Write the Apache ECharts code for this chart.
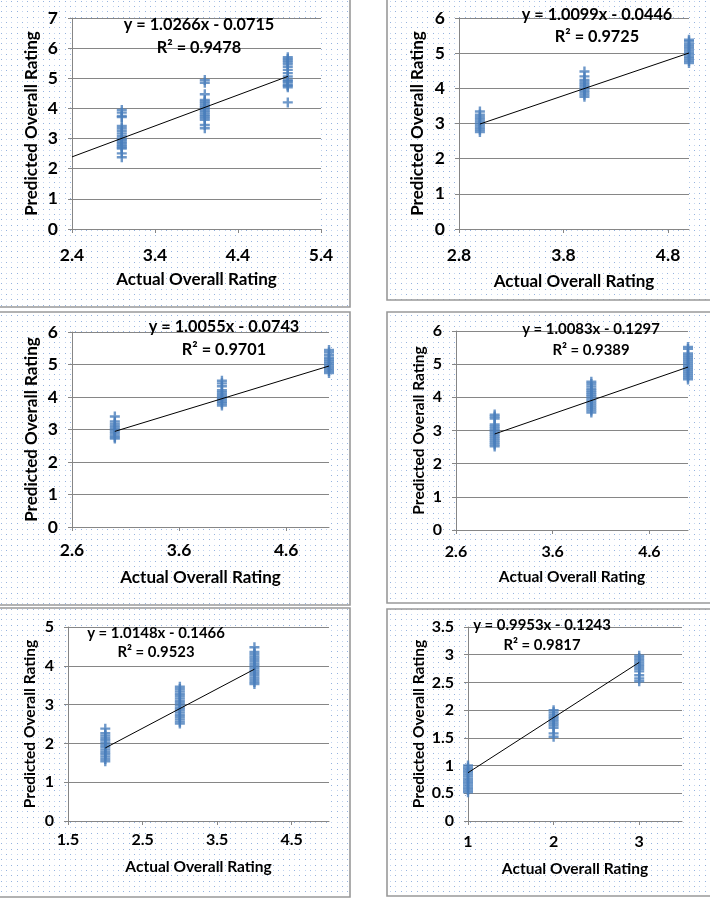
<!DOCTYPE html>
<html>
<head>
<meta charset="utf-8">
<script src="https://cdn.jsdelivr.net/npm/echarts@6/dist/echarts.min.js"></script>
<style>
  html, body { margin: 0; padding: 0; background: #fff; }
  #chart { width: 710px; height: 904px; }
</style>
</head>
<body>
<div id="chart"></div>
<script>
// actual rating groups per panel (x) and predicted ratings (y)
const actual = [[3, 4, 5], [3, 4, 5], [3, 4, 5], [3, 4, 5], [2, 3, 4], [1, 2, 3]]

const pred1 = [
  [3.95, 3.86, 3.75, 3.71, 3.42, 3.34, 3.26, 3.17, 3.08, 3.0, 2.95, 2.9, 2.85, 2.8, 2.75, 2.7, 2.67, 2.51, 2.38],
  [4.94, 4.85, 4.47, 4.28, 4.22, 4.16, 4.1, 4.04, 3.98, 3.92, 3.86, 3.8, 3.74, 3.68, 3.62, 3.45, 3.34],
  [5.7, 5.64, 5.58, 5.52, 5.46, 5.38, 5.28, 5.17, 5.06, 4.95, 4.9, 4.86, 4.78, 4.75, 4.7, 4.2]
]
const pred2 = [
  [3.34, 3.25, 3.18, 3.12, 3.06, 3.0, 2.94, 2.88, 2.82, 2.76],
  [4.48, 4.34, 4.24, 4.18, 4.12, 4.06, 4.0, 3.94, 3.88, 3.82, 3.76],
  [5.38, 5.33, 5.26, 5.2, 5.14, 5.08, 5.02, 4.96, 4.9, 4.84, 4.78, 4.72]
]
const pred3 = [
  [3.4, 3.25, 3.18, 3.12, 3.06, 3.0, 2.94, 2.88, 2.82, 2.76, 2.72],
  [4.5, 4.42, 4.33, 4.21, 4.15, 4.09, 4.03, 3.97, 3.91, 3.85, 3.8, 3.74],
  [5.45, 5.38, 5.3, 5.22, 5.16, 5.1, 5.04, 4.98, 4.92, 4.86, 4.8, 4.74]
]
const pred4 = [
  [3.48, 3.42, 3.36, 3.18, 3.12, 3.06, 3.0, 2.94, 2.88, 2.82, 2.76, 2.7, 2.64, 2.58, 2.52],
  [4.47, 4.4, 4.33, 4.26, 4.2, 4.14, 4.08, 4.02, 3.96, 3.9, 3.84, 3.78, 3.72, 3.66, 3.6, 3.54],
  [5.52, 5.46, 5.32, 5.26, 5.2, 5.14, 5.08, 5.02, 4.96, 4.9, 4.84, 4.78, 4.72, 4.66, 4.6, 4.54]
]
const pred5 = [
  [2.38, 2.26, 2.2, 2.14, 2.08, 2.02, 1.96, 1.9, 1.84, 1.78, 1.72, 1.66, 1.6, 1.54],
  [3.46, 3.4, 3.34, 3.28, 3.22, 3.16, 3.1, 3.04, 2.98, 2.92, 2.86, 2.8, 2.74, 2.68, 2.62, 2.56, 2.51],
  [4.48, 4.36, 4.3, 4.24, 4.18, 4.12, 4.06, 4.0, 3.94, 3.88, 3.82, 3.76, 3.7, 3.64, 3.58, 3.53]
]
const pred6 = [
  [1.0, 0.96, 0.92, 0.88, 0.84, 0.8, 0.76, 0.72, 0.68, 0.64, 0.6, 0.56, 0.52],
  [2.0, 1.96, 1.92, 1.88, 1.84, 1.8, 1.76, 1.72, 1.68, 1.58, 1.52],
  [2.98, 2.94, 2.9, 2.86, 2.82, 2.78, 2.74, 2.7, 2.63, 2.57, 2.52]
]
const predicted = [pred1, pred2, pred3, pred4, pred5, pred6]

// trendline equations as printed on each panel
const slopes = [1.0266, 1.0099, 1.0055, 1.0083, 1.0148, 0.9953]
const intercepts = [-0.0715, -0.0446, -0.0743, -0.1297, -0.1466, -0.1243]
const rSquared = [0.9478, 0.9725, 0.9701, 0.9389, 0.9523, 0.9817]
const trendFrom = [2.4, 3, 3, 3, 2, 1]
const trendTo = [5, 5, 5, 5, 4, 3]

// axes
const xMin = [2.4, 2.8, 2.6, 2.6, 1.5, 1]
const xMax = [5.4, 5, 5, 5, 5, 3.5]
const xTicks = [[2.4, 3.4, 4.4, 5.4], [2.8, 3.8, 4.8], [2.6, 3.6, 4.6], [2.6, 3.6, 4.6], [1.5, 2.5, 3.5, 4.5], [1, 2, 3]]
const yMax = [7, 6, 6, 6, 5, 3.5]
const yStep = [1, 1, 1, 1, 1, 0.5]

// layout (px)
const panels = [[-1, -1, 351, 308], [387, -1, 330, 301], [-1, 312, 351, 293], [387, 312, 330, 291], [-1, 608, 351, 289], [387, 609, 330, 287]]
const grids = [[72, 18, 249, 211], [459, 18, 230, 211], [72, 332, 257, 195], [456, 331, 232, 199], [68, 627, 261, 194], [468, 627, 214, 194]]
const eqPos = [[199, 25, 48], [597, 15, 37], [224, 327, 350], [591, 329, 350], [156, 633, 652], [542, 625, 645]]
const xNameGap = [42, 44, 42, 39, 38, 40]
const yNameGap = [32, 33, 32, 29, 30, 41]
const xLabelMargin = [17, 17, 14, 14, 11, 13]
const fontSize = [17, 17, 17, 15.5, 15.5, 15.5]

const FONT = 'Lato, "Open Sans", sans-serif'
const BLUE = '#4A7EBB'
const GRAY = '#868686'

// dotted chart-area fill
const tile = document.createElement('canvas')
tile.width = 16
tile.height = 16
const tctx = tile.getContext('2d')
tctx.fillStyle = '#fff'
tctx.fillRect(0, 0, 16, 16)
;[1, 6, 11].forEach((px, i) => {
  [1, 6, 11].forEach((py, j) => {
    tctx.fillStyle = (i + j) % 2 ? '#c3d4ee' : '#94b2de'
    tctx.fillRect(px, py, 1, 1)
  })
})

const graphics = []
const grid = []
const xAxis = []
const yAxis = []
const series = []

predicted.forEach((cols, i) => {
  const p = panels[i]
  const g = grids[i]
  const fs = fontSize[i]
  const eqFont = 'bold ' + (fs * 0.96).toFixed(1) + 'px ' + FONT

  graphics.push({
    type: 'rect', z: -10, silent: true,
    shape: { x: p[0], y: p[1], width: p[2], height: p[3] },
    style: { fill: { image: tile, repeat: 'repeat' }, stroke: '#999', lineWidth: 1.6 }
  })

  const eq = 'y = ' + slopes[i].toFixed(4) + 'x - ' + Math.abs(intercepts[i]).toFixed(4)
  graphics.push({
    type: 'text', z: 10, silent: true, x: eqPos[i][0], y: eqPos[i][1],
    style: { text: eq, align: 'center', verticalAlign: 'middle', font: eqFont, fill: '#000' }
  })
  graphics.push({
    type: 'text', z: 10, silent: true, x: eqPos[i][0], y: eqPos[i][2],
    style: { text: 'R² = ' + rSquared[i].toFixed(4), align: 'center', verticalAlign: 'middle', font: eqFont, fill: '#000' }
  })

  grid.push({ left: g[0], top: g[1], width: g[2], height: g[3], show: true, backgroundColor: '#fff', borderWidth: 0 })

  const labelStyle = { fontFamily: FONT, fontWeight: 'bold', fontSize: fs + 0.5, color: '#000' }
  xAxis.push({
    type: 'value', gridIndex: i, min: xMin[i], max: xMax[i],
    name: 'Actual Overall Rating', nameLocation: 'middle', nameGap: xNameGap[i],
    nameTextStyle: { fontFamily: FONT, fontWeight: 'bold', fontSize: fs, color: '#000' },
    axisLine: { show: true, onZero: false, lineStyle: { color: GRAY } },
    axisTick: { show: true, length: 4, customValues: xTicks[i], lineStyle: { color: GRAY } },
    axisLabel: Object.assign({ customValues: xTicks[i], margin: xLabelMargin[i], formatter: v => String(v) }, labelStyle),
    splitLine: { show: false }
  })
  yAxis.push({
    type: 'value', gridIndex: i, min: 0, max: yMax[i], interval: yStep[i],
    name: 'Predicted Overall Rating', nameLocation: 'middle', nameGap: yNameGap[i],
    nameTextStyle: { fontFamily: FONT, fontWeight: 'bold', fontSize: fs, color: '#000' },
    axisLine: { show: true, lineStyle: { color: GRAY } },
    axisTick: { show: true, length: 4, lineStyle: { color: GRAY } },
    axisLabel: Object.assign({ margin: 14 }, labelStyle),
    splitLine: { show: true, lineStyle: { color: GRAY, width: 1 } }
  })

  const pts = []
  cols.forEach((vals, j) => {
    vals.forEach(v => pts.push([actual[i][j], v]))
  })
  series.push({
    type: 'scatter', xAxisIndex: i, yAxisIndex: i, silent: true,
    symbol: 'path://M0,5L10,5M5,0L5,10', symbolSize: 10,
    itemStyle: { color: 'rgba(0,0,0,0)', borderColor: BLUE, borderWidth: 2.4 },
    data: pts
  })
  series.push({
    type: 'line', xAxisIndex: i, yAxisIndex: i, silent: true, z: 5,
    symbol: 'none', lineStyle: { color: '#000', width: 1 },
    data: [
      [trendFrom[i], slopes[i] * trendFrom[i] + intercepts[i]],
      [trendTo[i], slopes[i] * trendTo[i] + intercepts[i]]
    ]
  })
})

const chart = echarts.init(document.getElementById('chart'))
chart.setOption({
  animation: false,
  backgroundColor: '#fff',
  graphic: { elements: graphics },
  grid,
  xAxis,
  yAxis,
  series
})
</script>
</body>
</html>
